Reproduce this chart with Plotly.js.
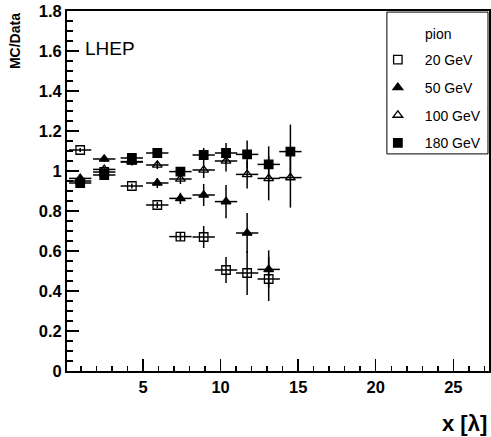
<!DOCTYPE html>
<html>
<head>
<meta charset="utf-8">
<script src="https://cdn.plot.ly/plotly-3.0.1.min.js"></script>
<style>html,body{margin:0;padding:0;background:#fff;}#chart{width:491px;height:437px;}</style>
</head>
<body>
<div id="chart"></div>
<script>
// Bin centres (x in interaction lengths)
const xCenters = [0.95, 2.5, 4.28, 5.92, 7.41, 8.91, 10.35, 11.71, 13.1, 14.5];
const xHalfWidth = [0.72, 0.72, 0.72, 0.72, 0.72, 0.72, 0.72, 0.72, 0.72, 0.72];

const y20 = [1.105, 0.995, 0.925, 0.83, 0.672, 0.67, 0.505, 0.49, 0.46];
const e20 = [0.01, 0.01, 0.012, 0.015, 0.02, 0.055, 0.065, 0.11, 0.11];

const y50 = [0.963, 1.06, 1.047, 0.94, 0.863, 0.88, 0.847, 0.69, 0.508];
const e50 = [0.015, 0.015, 0.02, 0.025, 0.028, 0.055, 0.083, 0.1, 0.095];

const y100 = [0.95, 1.008, 1.045, 1.03, 0.96, 1.005, 1.05, 0.983, 0.963, 0.967];
const e100 = [0.01, 0.012, 0.015, 0.02, 0.025, 0.04, 0.053, 0.07, 0.11, 0.15];

const y180 = [0.94, 0.98, 1.065, 1.09, 0.997, 1.08, 1.09, 1.083, 1.033, 1.097];
const e180 = [0.01, 0.01, 0.012, 0.015, 0.02, 0.035, 0.05, 0.07, 0.09, 0.135];

const seriesNames = ['20 GeV', '50 GeV', '100 GeV', '180 GeV'];
const seriesY = [y20, y50, y100, y180];
const seriesE = [e20, e50, e100, e180];
const seriesSymbols = ['square-open', 'triangle-up', 'triangle-up-open', 'square'];

const xTickVals = [5, 10, 15, 20, 25];
const xTickText = ['5', '10', '15', '20', '25'];
const yTickVals = [0, 0.2, 0.4, 0.6, 0.8, 1, 1.2, 1.4, 1.6, 1.8];
const yTickText = ['0', '0.2', '0.4', '0.6', '0.8', '1', '1.2', '1.4', '1.6', '1.8'];

const FONT = 'Liberation Sans, Arial, Helvetica, sans-serif';

const traces = seriesNames.map((name, i) => {
  const n = seriesY[i].length;
  return {
    type: 'scatter',
    mode: 'markers',
    name: name,
    legendgroup: 'g' + i,
    x: xCenters.slice(0, n),
    y: seriesY[i],
    error_y: {type: 'data', array: seriesE[i], visible: true, color: '#000', thickness: 1.5, width: 0},
    error_x: {type: 'data', array: xHalfWidth.slice(0, n), visible: true, color: '#000', thickness: 1.5, width: 0},
    marker: {symbol: seriesSymbols[i], size: 8.5, color: '#000', line: {color: '#000', width: 1.3}},
    cliponaxis: false
  };
});

const layout = {
  width: 491, height: 437,
  margin: {l: 67, r: 2, t: 11, b: 66, autoexpand: false},
  paper_bgcolor: '#fff', plot_bgcolor: '#fff',
  font: {family: FONT, color: '#000'},
  showlegend: true,
  legend: {
    x: 0.72, xanchor: 'left', y: 0.908, yanchor: 'top',
    borderwidth: 0, bgcolor: 'rgba(0,0,0,0)',
    font: {family: FONT, size: 14, color: '#000'},
    tracegroupgap: 6.5,
    itemwidth: 44
  },
  shapes: [
    {type: 'rect', xref: 'paper', yref: 'paper', x0: 0.758, x1: 0.9976, y0: 0.603, y1: 0.997,
     line: {color: '#000', width: 1}, fillcolor: '#fff', layer: 'below'}
  ],
  xaxis: {
    range: [0.1, 27.3],
    tickmode: 'array', tickvals: xTickVals, ticktext: xTickText.map(t => '<b>' + t + '</b>'),
    ticks: 'inside', ticklen: 12, tickwidth: 1.5, tickcolor: '#000',
    minor: {dtick: 1, tick0: 0, ticks: 'inside', ticklen: 5, tickwidth: 1.5, tickcolor: '#000'},
    showline: true, linecolor: '#000', linewidth: 2, mirror: true,
    showgrid: false, zeroline: false,
    tickfont: {family: FONT, size: 16.5, weight: 'bold'}
  },
  yaxis: {
    range: [0, 1.8],
    tickmode: 'array', tickvals: yTickVals, ticktext: yTickText.map(t => '<b>' + t + '</b>'),
    ticks: 'inside', ticklen: 12, tickwidth: 1.5, tickcolor: '#000',
    minor: {dtick: 0.05, tick0: 0, ticks: 'inside', ticklen: 6, tickwidth: 1.5, tickcolor: '#000'},
    showline: true, linecolor: '#000', linewidth: 2, mirror: true,
    showgrid: false, zeroline: false,
    tickfont: {family: FONT, size: 16.5, weight: 'bold'}
  },
  annotations: [
    {text: 'LHEP', xref: 'paper', yref: 'paper', x: 0.038, y: 0.897, xanchor: 'left', yanchor: 'middle',
     showarrow: false, font: {family: FONT, size: 19, color: '#000'}},
    {text: 'pion', xref: 'paper', yref: 'paper', x: 0.878, y: 0.936, xanchor: 'center', yanchor: 'middle',
     showarrow: false, font: {family: FONT, size: 14, color: '#000'}},
    {text: '<b>MC/Data</b>', xref: 'paper', yref: 'paper', x: -0.123, y: 1.0, xanchor: 'center', yanchor: 'top',
     textangle: -90, showarrow: false, font: {family: FONT, size: 14, color: '#000'}},
    {text: '<b>x [λ]</b>', xref: 'paper', yref: 'paper', x: 1.0, y: -0.105, xanchor: 'right', yanchor: 'top',
     showarrow: false, font: {family: FONT, size: 22, color: '#000'}}
  ]
};

Plotly.newPlot('chart', traces, layout, {staticPlot: true, displayModeBar: false});
</script>
</body>
</html>
